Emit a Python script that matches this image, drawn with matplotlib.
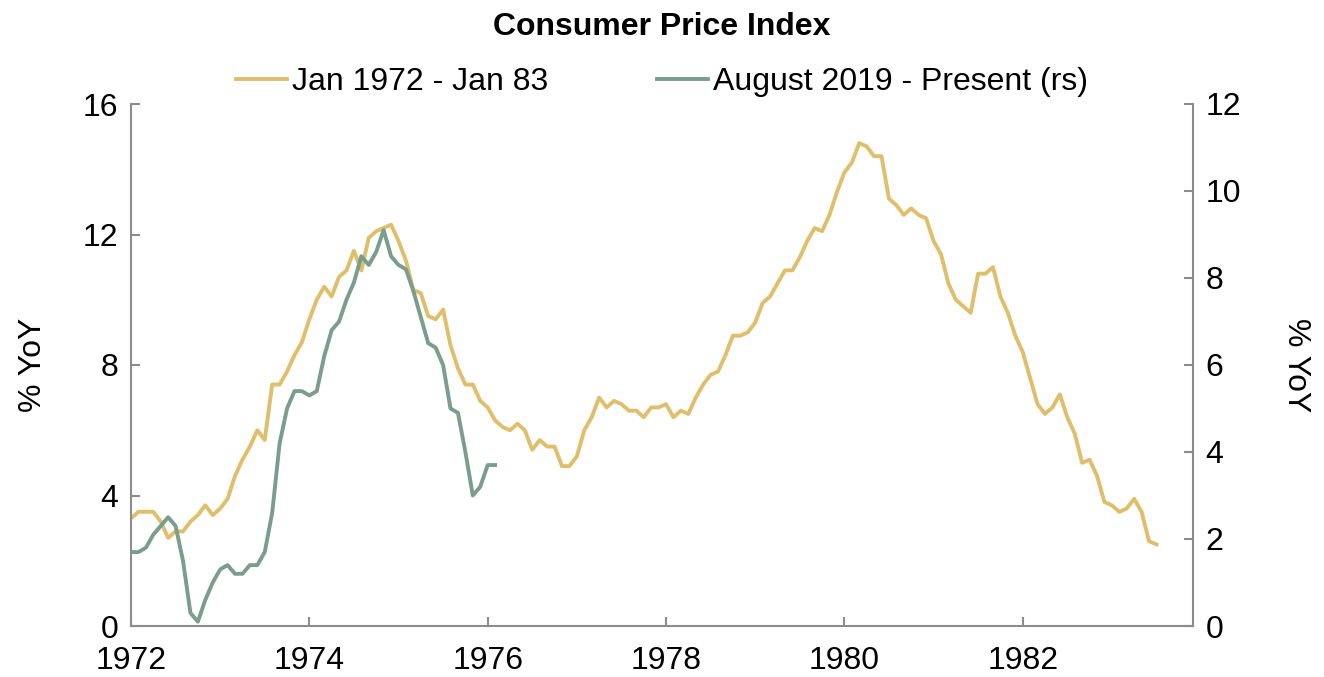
import matplotlib
matplotlib.use("Agg")
import matplotlib.pyplot as plt
import numpy as np

plt.rcParams['font.family'] = ['Liberation Sans', 'DejaVu Sans']

# CPI % YoY, monthly from Jan 1972 (left axis)
cpi_1970s = [
    3.3, 3.5, 3.5, 3.5, 3.2, 2.7, 2.9, 2.9, 3.2, 3.4, 3.7, 3.4,
    3.6, 3.9, 4.6, 5.1, 5.5, 6.0, 5.7, 7.4, 7.4, 7.8, 8.3, 8.7,
    9.4, 10.0, 10.4, 10.1, 10.7, 10.9, 11.5, 10.9, 11.9, 12.1, 12.2, 12.3,
    11.8, 11.2, 10.3, 10.2, 9.5, 9.4, 9.7, 8.6, 7.9, 7.4, 7.4, 6.9,
    6.7, 6.3, 6.1, 6.0, 6.2, 6.0, 5.4, 5.7, 5.5, 5.5, 4.9, 4.9,
    5.2, 6.0, 6.4, 7.0, 6.7, 6.9, 6.8, 6.6, 6.6, 6.4, 6.7, 6.7,
    6.8, 6.4, 6.6, 6.5, 7.0, 7.4, 7.7, 7.8, 8.3, 8.9, 8.9, 9.0,
    9.3, 9.9, 10.1, 10.5, 10.9, 10.9, 11.3, 11.8, 12.2, 12.1, 12.6, 13.3,
    13.9, 14.2, 14.8, 14.7, 14.4, 14.4, 13.1, 12.9, 12.6, 12.8, 12.6, 12.5,
    11.8, 11.4, 10.5, 10.0, 9.8, 9.6, 10.8, 10.8, 11.0, 10.1, 9.6, 8.9,
    8.4, 7.6, 6.8, 6.5, 6.7, 7.1, 6.4, 5.9, 5.0, 5.1, 4.6, 3.8,
    3.7, 3.5, 3.6, 3.9, 3.5, 2.6, 2.5,
]

# CPI % YoY, monthly from Aug 2019 (right axis), aligned to Jan 1972
cpi_recent = [
    1.7, 1.7, 1.8, 2.1, 2.3,
    2.5, 2.3, 1.5, 0.3, 0.1, 0.6, 1.0, 1.3, 1.4, 1.2, 1.2, 1.4,
    1.4, 1.7, 2.6, 4.2, 5.0, 5.4, 5.4, 5.3, 5.4, 6.2, 6.8, 7.0,
    7.5, 7.9, 8.5, 8.3, 8.6, 9.1, 8.5, 8.3, 8.2, 7.7, 7.1, 6.5,
    6.4, 6.0, 5.0, 4.9, 4.0, 3.0, 3.2, 3.7, 3.7,
]

start_year = 1972
x_years = [1972, 1974, 1976, 1978, 1980, 1982]
left_ticks = [0, 4, 8, 12, 16]
right_ticks = [0, 2, 4, 6, 8, 10, 12]

gold = "#E0BF6C"
green = "#7A9D8E"
spine_col = "#8C8C8C"
fs = 23

fig = plt.figure(figsize=(13.24, 6.77), dpi=100)
ax = fig.add_axes([131/1324, 1 - 626/677, (1193 - 131)/1324, (626 - 104)/677])
ax2 = ax.twinx()

x1 = start_year + np.arange(len(cpi_1970s)) / 12
x2 = start_year + np.arange(len(cpi_recent)) / 12

l1, = ax.plot(x1, cpi_1970s, color=gold, lw=2.8, label="Jan 1972 - Jan 83")
l2, = ax2.plot(x2, cpi_recent, color=green, lw=2.8, label="August 2019 - Present (rs)")

ax.set_xlim(1972, 1983.91)
ax.set_ylim(0, 16)
ax2.set_ylim(0, 12)
ax.set_xticks(x_years)
ax.set_yticks(left_ticks)
ax2.set_yticks(right_ticks)

for a in (ax, ax2):
    a.spines['top'].set_visible(False)
    for s in ('left', 'right', 'bottom'):
        a.spines[s].set_color(spine_col)
        a.spines[s].set_linewidth(1.5)
    a.tick_params(direction='in', length=6.5, width=1.5, color=spine_col,
                  labelsize=fs, pad=9)
ax.spines['right'].set_visible(False)
ax2.spines['left'].set_visible(False)
ax2.spines['bottom'].set_visible(False)
ax.tick_params(axis='x', pad=14.5)

ax.set_ylabel("% YoY", fontsize=fs, labelpad=25)
ax2.set_ylabel("% YoY", fontsize=fs, rotation=270, labelpad=50)

fig.text(0.5, 1 - 27/677, "Consumer Price Index", ha='center', va='center',
         fontsize=fs, fontweight='bold')
ax.legend(handles=[l1, l2], loc='center', bbox_to_anchor=(0.5, 1.042), ncol=2,
          frameon=False, fontsize=fs, handlelength=1.6, handletextpad=0.15,
          columnspacing=3.4, borderaxespad=0)

fig.savefig("out.png", dpi=100)
